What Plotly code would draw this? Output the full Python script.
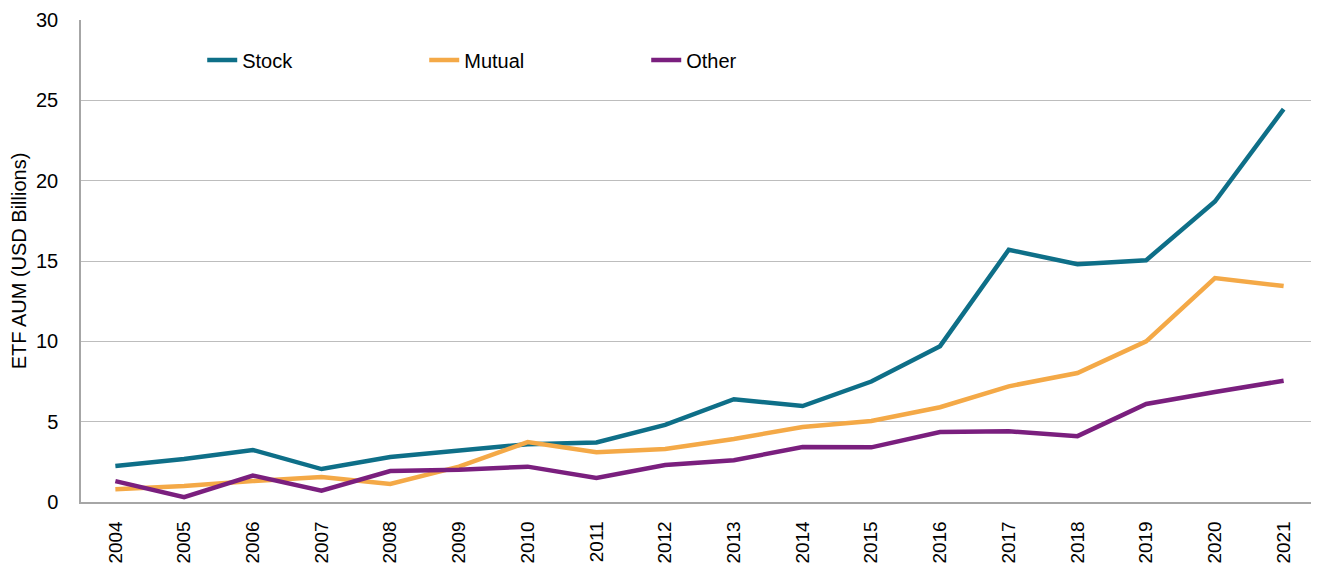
import plotly.graph_objects as go

years = [str(y) for y in range(2004, 2022)]
stock = [2.24, 2.68, 3.24, 2.05, 2.8, 3.17, 3.6, 3.7, 4.8, 6.4, 5.97, 7.5, 9.7, 15.7, 14.8, 15.05, 18.7, 24.45]
mutual = [0.8, 1.0, 1.3, 1.55, 1.12, 2.2, 3.73, 3.1, 3.3, 3.92, 4.67, 5.04, 5.9, 7.2, 8.03, 10.0, 13.94, 13.44]
other = [1.3, 0.3, 1.65, 0.7, 1.93, 2.0, 2.2, 1.5, 2.3, 2.6, 3.42, 3.4, 4.36, 4.4, 4.1, 6.1, 6.85, 7.55]

series = [("Stock", stock, "#0E6F88"), ("Mutual", mutual, "#F4A947"), ("Other", other, "#7A1F7E")]

fig = go.Figure()
for name, vals, col in series:
    fig.add_trace(go.Scatter(x=years, y=vals, name=name, mode="lines",
                             line=dict(color=col, width=4.5)))

font = "Liberation Sans, Arial, sans-serif"
fig.update_layout(
    width=1311, height=557,
    margin=dict(l=73, r=1, t=12, b=63),
    paper_bgcolor="white", plot_bgcolor="white",
    font=dict(family=font, size=20, color="#000000"),
    showlegend=True,
    legend=dict(orientation="h", x=0.098, y=0.917, xanchor="left", yanchor="middle",
                entrywidth=177, entrywidthmode="pixels",
                font=dict(size=20), bgcolor="rgba(0,0,0,0)"),
    xaxis=dict(type="category", tickangle=-90, showgrid=False, range=[-0.5, 17.5],
               showline=True, linecolor="#A6A6A6", linewidth=1.5,
               ticks="", tickfont=dict(size=19), automargin=False, ticklabelstandoff=10),
    yaxis=dict(range=[0, 30], dtick=5, showgrid=True, gridcolor="#BDBDBD", gridwidth=1,
               showline=True, linecolor="#A6A6A6", linewidth=1.5, zeroline=False,
               ticks="", tickfont=dict(size=20), automargin=False, ticklabelstandoff=17,
               title=dict(text="ETF AUM (USD Billions)", font=dict(size=20), standoff=10)),
)
fig.write_html("out.html")
